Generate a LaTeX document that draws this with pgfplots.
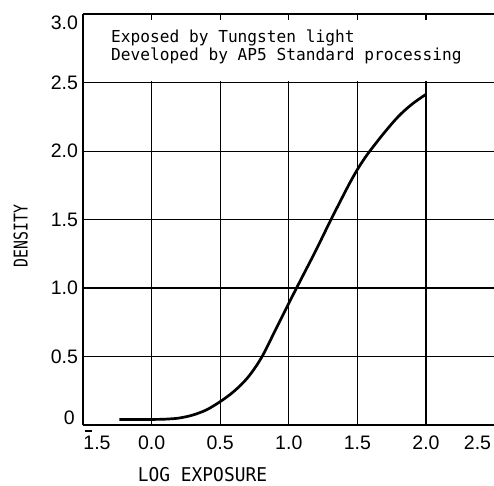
\documentclass[border=0pt]{standalone}
\usepackage{fontspec}
\setmainfont{Liberation Sans}
\newfontfamily\boxfont[FakeStretch=0.98]{DejaVu Sans Mono}
\newfontfamily\xlabfont[FakeStretch=0.94]{DejaVu Sans Mono}
\newfontfamily\ylabfont[FakeStretch=0.78]{DejaVu Sans Mono}
\usepackage{pgfplots}
\pgfplotsset{compat=1.18}

\newcommand\tickfnt{\fontsize{19.5}{19.5}\selectfont}

\begin{document}
\begin{tikzpicture}
\begin{axis}[
  name=ax,
  width=411.6pt, height=410.6pt, scale only axis,
  xmin=-0.5, xmax=2.5, ymin=0, ymax=3,
  axis lines*=left,
  axis line style={line width=2pt},
  xtick={-0.5,0,0.5,1,1.5,2},
  ytick={0,0.5,1,1.5,2,2.5,3},
  xticklabels={,0.0,0.5,1.0,1.5,2.0},
  yticklabels={,0.5,1.0,1.5,2.0,2.5,},
  major tick length=0pt,
  grid=major,
  grid style={black, line width=1.3pt},
  tick label style={font=\tickfnt},
  xticklabel style={yshift=-7.5pt},
  yticklabel style={xshift=-1.5pt},
  clip=false,
]
% white panel for the note, covering the grid above 2.5
\fill[white] (axis cs:-0.49,2.51) rectangle (axis cs:2.52,2.99);
\pgfplotsinvokeforeach{0,0.5,1,1.5,2}{
  \draw[line width=1.3pt] (axis cs:#1,3) -- ([yshift=-6pt]axis cs:#1,3);
}
\draw[line width=2pt] (axis cs:-0.5,3) -- (axis cs:2.52,3);

\addplot[black, line width=2.7pt, smooth, tension=0.55] coordinates {
  (-0.235,0.040) (0.0,0.040) (0.1,0.042) (0.2,0.050) (0.3,0.072)
  (0.4,0.110) (0.5,0.170) (0.6,0.245) (0.7,0.345)
  (0.8,0.490) (0.9,0.688) (1.0,0.889) (1.1,1.085)
  (1.2,1.280) (1.3,1.485) (1.4,1.682) (1.45,1.778) (1.5,1.866)
  (1.55,1.944) (1.6,2.013) (1.7,2.140) (1.8,2.255) (1.9,2.345)
  (2.0,2.415)
};

% end tick labels, shifted inward as in the original
\node[anchor=east, font=\tickfnt] at ([xshift=-4.8pt,yshift=7pt]axis cs:-0.5,0) {0};
\node[anchor=east, font=\tickfnt] at ([xshift=-1.5pt,yshift=-8.4pt]axis cs:-0.5,3) {3.0};
\node[anchor=north, font=\tickfnt] (n1) at ([xshift=14pt,yshift=-7.5pt]axis cs:-0.5,0) {1.5};
\node[anchor=north, font=\tickfnt] at ([xshift=-17.1pt,yshift=-7.5pt]axis cs:2.5,0) {2.5};

% note
\node[anchor=base west, inner sep=0pt, font=\boxfont\fontsize{16.5}{16.5}\selectfont]
  at (axis cs:-0.296,2.795) {Exposed by Tungsten light};
\node[anchor=base west, inner sep=0pt, font=\boxfont\fontsize{16.5}{16.5}\selectfont]
  at (axis cs:-0.296,2.659) {Developed by AP5 Standard processing};

% axis titles
\node[rotate=90, inner sep=0pt, font=\ylabfont\fontsize{19}{19}\selectfont]
  at ([xshift=-62.2pt]axis cs:-0.5,1.38) {DENSITY};
\node[inner sep=0pt, font=\xlabfont\fontsize{19}{19}\selectfont]
  at ([yshift=-50pt]axis cs:0.371,0) {LOG EXPOSURE};
\end{axis}
% bar over the 1 of the first label (log notation)
\draw[line width=2.2pt] ([xshift=5pt,yshift=1.5pt]n1.north west) -- ++(7pt,0);
\pgfresetboundingbox
\path ([xshift=-83pt,yshift=-61pt]ax.south west) rectangle ([xshift=-0.6pt,yshift=14.3pt]ax.north east);
\end{tikzpicture}
\end{document}
